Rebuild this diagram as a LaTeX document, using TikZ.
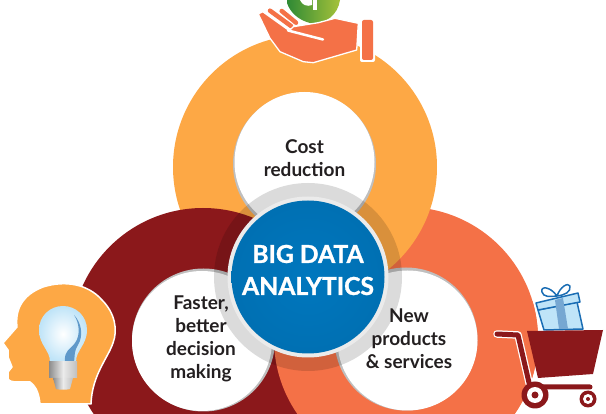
\documentclass[tikz,border=0pt]{standalone}
\usepackage{fontspec}
\setmainfont{Lato}
\newfontfamily\hubfont[FakeBold=1.2]{Lato Bold}
\definecolor{cOrange}{HTML}{FDA845}
\definecolor{cRed}{HTML}{8B181B}
\definecolor{cCoral}{HTML}{F47147}
\definecolor{cBlue}{HTML}{0077BE}
\definecolor{cText}{HTML}{231F20}
\definecolor{cGiftLine}{HTML}{1A6DB4}
\definecolor{cGift}{HTML}{BFE4F8}
\definecolor{cGreen}{HTML}{2F8A35}
\definecolor{cLime}{HTML}{A6C23A}
\tikzset{
 lbl/.style={align=center,text=cText,font=\fontsize{19}{23}\selectfont\bfseries},
 hub/.style={align=center,text=white,font=\fontsize{24.7}{32}\hubfont},
 giftline/.style={draw=cGiftLine,line width=1.5pt,line join=round},
 metal/.style={left color=black!45,right color=black!25,middle color=black!8},
 casing/.style={draw=white,line width=1.3pt,line join=round},
 finger/.style={line width=#1,line cap=round},
}
\begin{document}
\begin{tikzpicture}[x=1pt,y=-1pt]
\useasboundingbox (0,0) rectangle (606,414);
\clip (0,0) rectangle (606,414);
% big discs (cyclic overlap)
\fill[cCoral] (406,339) circle (132);
\fill[cOrange] (305,167) circle (132);
\fill[cRed] (203,340) circle (132);
\begin{scope}
 \clip (250,302) rectangle (606,414);
 \fill[cCoral] (406,339) circle (132);
\end{scope}
% white discs with rim
\fill[black!25] (304.5,164) circle (71.5);
\fill[white] (304.5,162) circle (70);
\fill[black!25] (203.5,340) circle (71.5);
\fill[white] (202,341) circle (70);
\fill[black!25] (406,339) circle (71.5);
\fill[white] (407.5,340.5) circle (70);
% hub
\fill[black,opacity=.14] (308,277) circle (94);
\fill[white!92!black] (308,277) circle (80.5);
\shade[inner color=cBlue,outer color=cBlue!94!black] (308,277) circle (76.5);
% labels
\node[lbl] (cost) at (304.5,158) {Cost\\reduction};
\node[lbl] (fast) at (201,339) {Faster,\\better\\decision\\making};
\node[lbl] (new) at (409,339) {New\\products\\\& services};
\node[hub] (big) at (308,270) {BIG DATA\\ANALYTICS};
% head
\path[fill=cOrange,draw=white,line width=1.5pt,line join=round]
 (40,404) .. controls (39,395) and (37,387) .. (30,382) -- (18,382) .. controls (12,382) and (8,381) .. (8,378)
 -- (8,372) -- (12,367) -- (8,357) -- (8,350) -- (3,343) -- (17,327)
 .. controls (15,310) and (22,295) .. (43,287) .. controls (65,280) and (88,284) .. (102,300)
 .. controls (115,313) and (118,330) .. (113,343) .. controls (108,358) and (92,375) .. (91,404) -- cycle;
% bulb
\shade[inner color=white,outer color=cGift]
 (50,362) .. controls (50,350) and (39,345) .. (39,330) .. controls (39,316) and (50,306) .. (63,306)
 .. controls (76,306) and (87,316) .. (87,330) .. controls (87,345) and (76,350) .. (76,362) -- cycle;
\fill[cGiftLine!70!white] (65,362) .. controls (64,350) and (70,350) .. (75,343) .. controls (81,335) and (79,322) .. (74,315) .. controls (81,322) and (84,335) .. (78,345) .. controls (74,351) and (75,355) .. (74,362) -- cycle;
\shade[metal] (49,362) rectangle (77,378);
\shade[metal] (53,378) -- (73,378) -- (70,389) .. controls (66,390) and (60,390) .. (56,389) -- cycle;
% coin
\shade[left color=cGreen,right color=cLime]
 (287,3) .. controls (290,12) and (298,20) .. (310,23) .. controls (325,25) and (338,15) .. (340,0) -- (287,0) -- cycle;
\fill[white] (313,0) rectangle (316.5,10);
\fill[white] (300,0) .. controls (302,5) and (307,7) .. (312,5) -- (312,0) -- cycle;
% hand
\draw[white,finger=6.5pt] (281.7,11) -- (296,22.7);
\draw[cCoral,finger=4.5pt] (281.7,11) -- (296,22.7);
\draw[white,finger=6.5pt] (270,10.7) -- (291,26);
\draw[cCoral,finger=4.5pt] (270,10.7) -- (291,26);
\path[fill=cCoral,casing]
 (258.3,14) -- (262.7,11.7) -- (289.3,30.7) -- (293.3,26.7) -- (318.3,22.7) -- (335,18.3) -- (358.3,23.3) -- (356.7,50) -- (313.3,62.7) -- (303.3,61.7) -- (280,51.7) -- (270,38.3) -- cycle;
\draw[white,finger=2.5pt] (288,30.5) -- (323,39.5);
\fill[white,rounded corners=2pt] (360,18.5) rectangle (375,62);
\fill[cCoral,rounded corners=2pt] (362,20) rectangle (373,60);
% gift
\fill[cGift,giftline] (538,310) -- (544,330) -- (583,329) -- (577,302) -- cycle;
\fill[cGift,giftline] (536,303) -- (578,293) -- (580,302) -- (538,310) -- cycle;
\fill[cGiftLine!60!white] (555,300) -- (563,298) -- (568,329) -- (559,329) -- cycle;
\draw[giftline] (557,296) .. controls (550,286) and (540,286) .. (542,292) .. controls (543,297) and (550,297) .. (557,296) .. controls (560,287) and (568,282) .. (570,286) .. controls (571,292) and (565,295) .. (557,296);
% cart
\fill[cRed] (527,331) -- (603,330) -- (593,374) -- (538,378) -- cycle;
\draw[white,line width=7.5pt,line cap=round,line join=round] (497,334) -- (518,335) -- (530,387) -- (590,387);
\draw[cRed,line width=5pt,line cap=round,line join=round] (497,334) -- (518,335) -- (530,387) -- (590,387);
\fill[cRed] (535,395) circle (13.5);
\fill[white] (535,395) circle (8);
\fill[cRed] (535,395) circle (3.5);
\fill[cRed] (588,399) circle (8.5);
\fill[white] (588,399) circle (5);
\fill[cRed] (588,399) circle (2);
\end{tikzpicture}
\end{document}
